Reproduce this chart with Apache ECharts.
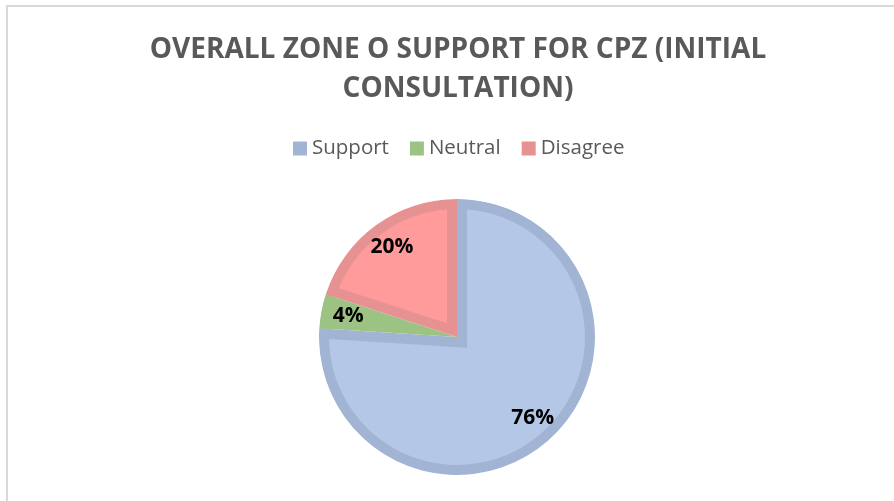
<!DOCTYPE html>
<html>
<head>
<meta charset="utf-8">
<script src="https://cdn.jsdelivr.net/npm/echarts@6/dist/echarts.min.js"></script>
<style>
  html, body { margin: 0; padding: 0; background: #fff; }
  #frame { position: absolute; left: 6px; top: 5px; width: 900px; height: 500px;
           border-top: 2px solid #d9d9d9; border-left: 2px solid #d9d9d9; }
  #main { position: absolute; left: 0; top: 0; width: 894px; height: 501px; }
</style>
</head>
<body>
<div id="frame"></div>
<div id="main"></div>
<script>
let categories = ['Support', 'Neutral', 'Disagree'];
let shares = [76, 4, 20];
let lightColors = ['#b4c7e7', '#9dc384', '#ff9b9b'];
let darkColors = ['#a2b4d4', '#9dc384', '#e69192'];

window.onload = function () {
  init()
}

function init() {
  let chart = echarts.init(document.getElementById('main'));
  let center = [457, 337];
  let R = 138;      // outer radius
  let band = 10;    // darker inner edge of each slice
  let total = shares.reduce((a, b) => a + b, 0);

  // base pie in the darker edge colours
  let series = [{
    type: 'pie', silent: true, center: center, radius: R, startAngle: 90,
    label: { show: false }, labelLine: { show: false },
    itemStyle: { borderWidth: 0 },
    data: categories.map((c, i) => ({ name: c, value: shares[i], itemStyle: { color: darkColors[i] } }))
  }];

  // light fill of each slice, pushed inward so the dark edge shows as a band
  categories.forEach((c, k) => {
    if (lightColors[k] === darkColors[k]) return;
    let half = Math.PI * shares[k] / total;
    let off = band / Math.sin(half);
    series.push({
      type: 'pie', silent: true, center: center, radius: R - band + off, startAngle: 90,
      selectedMode: 'multiple', selectedOffset: off,
      label: { show: false }, labelLine: { show: false },
      emphasis: { disabled: true },
      itemStyle: { borderWidth: 0 },
      data: categories.map((n, i) => ({
        name: n, value: shares[i], selected: i === k,
        itemStyle: { color: i === k ? lightColors[i] : 'rgba(0,0,0,0)' }
      }))
    });
  });

  // outer dark ring and white mask outside the pie
  series.push({
    type: 'pie', silent: true, center: center, radius: [R - band, R], startAngle: 90,
    label: { show: false }, labelLine: { show: false },
    itemStyle: { borderWidth: 0 },
    data: categories.map((c, i) => ({ name: c, value: shares[i], itemStyle: { color: darkColors[i] } }))
  });
  series.push({
    type: 'pie', silent: true, center: center, radius: [R, R + 45], startAngle: 90,
    label: { show: false }, labelLine: { show: false },
    itemStyle: { borderWidth: 0, color: '#fff' },
    data: categories.map((c, i) => ({ name: c + ' ', value: shares[i] }))
  });

  // percentage labels
  series.push({
    type: 'pie', silent: true, center: center, radius: [R * 0.56, R], startAngle: 90,
    itemStyle: { borderWidth: 0, color: 'rgba(0,0,0,0)' },
    labelLine: { show: false },
    label: {
      show: true, position: 'inside', formatter: '{c}%',
      fontFamily: 'Open Sans', fontWeight: 'bold', fontSize: 21, color: '#000'
    },
    data: categories.map((c, i) => ({ name: c + '  ', value: shares[i] }))
  });

  chart.setOption({
    animation: false,
    title: {
      text: 'OVERALL ZONE O SUPPORT FOR CPZ (INITIAL\nCONSULTATION)',
      left: 453, top: 26, textAlign: 'center',
      textStyle: {
        fontFamily: 'Open Sans', fontWeight: 'bold', fontSize: 28,
        color: '#595959', lineHeight: 39
      }
    },
    legend: {
      data: categories.map((c, i) => ({ name: c, itemStyle: { color: darkColors[i] } })),
      left: 288, top: 133, icon: 'rect',
      itemWidth: 14, itemHeight: 14, itemGap: 21,
      textStyle: { fontFamily: 'Open Sans', fontSize: 20.5, color: '#595959' }
    },
    series: series
  });
}
</script>
</body>
</html>
